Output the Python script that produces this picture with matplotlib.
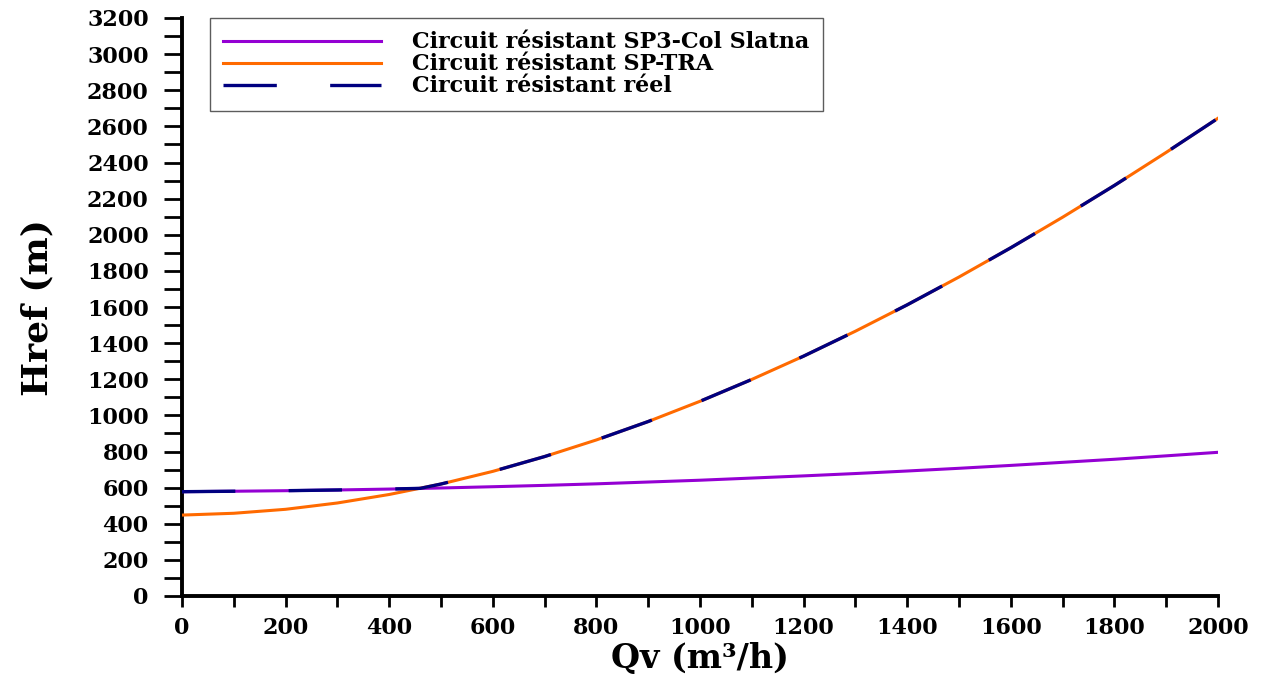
import matplotlib
matplotlib.use("Agg")
import matplotlib.pyplot as plt
from matplotlib.ticker import MultipleLocator

# ---- data ----
q = [0, 100, 200, 300, 400, 500, 600, 700, 800, 900, 1000,
     1100, 1200, 1300, 1400, 1500, 1600, 1700, 1800, 1900, 2000]
h_sp3 = [577.5, 580, 583, 587, 592, 598, 605, 612.5, 621, 631, 641,
         653, 665, 678, 692, 707, 723, 740, 757, 776, 795.5]
h_sptra = [448, 458, 480, 515, 562, 620, 690, 772, 864, 966, 1078,
           1199, 1328, 1466, 1612, 1766, 1928, 2097, 2273, 2456, 2645]
q_reel = [0, 100, 200, 300, 400, 460, 500, 600, 700, 800, 900, 1000,
          1100, 1200, 1300, 1400, 1500, 1600, 1700, 1800, 1900, 2000]
h_reel = [577.5, 580, 583, 587, 592, 596, 620, 690, 772, 864, 966, 1078,
          1199, 1328, 1466, 1612, 1766, 1928, 2097, 2273, 2456, 2645]

labels = ["Circuit résistant SP3-Col Slatna",
          "Circuit résistant SP-TRA",
          "Circuit résistant réel"]
x_label = "Qv (m³/h)"
y_label = "Href (m)"

FONT = "DejaVu Serif"

fig = plt.figure(figsize=(12.68, 6.75), dpi=100)
ax = fig.add_axes([182/1268, 79/675, 1036/1268, 578/675])

ax.plot(q, h_sp3, color="#9400D3", lw=2.2, label=labels[0], zorder=3)
ax.plot(q, h_sptra, color="#FF6A00", lw=2.2, label=labels[1], zorder=4)
ax.plot(q_reel, h_reel, color="#000080", lw=2.4, ls=(0, (16, 16)),
        label=labels[2], zorder=5)

ax.set_xlim(0, 2000)
ax.set_ylim(0, 3200)
ax.xaxis.set_major_locator(MultipleLocator(200))
ax.xaxis.set_minor_locator(MultipleLocator(100))
ax.yaxis.set_major_locator(MultipleLocator(200))
ax.yaxis.set_minor_locator(MultipleLocator(100))

for s in ["top", "right"]:
    ax.spines[s].set_visible(False)
for s in ["left", "bottom"]:
    ax.spines[s].set_linewidth(2.8)

ax.tick_params(axis="y", which="both", direction="out", length=13, width=2, pad=11)
ax.tick_params(axis="x", which="both", direction="out", length=8, width=2, pad=7)

for lab in ax.get_xticklabels() + ax.get_yticklabels():
    lab.set_fontfamily(FONT)
    lab.set_fontweight("bold")
    lab.set_fontsize(16)

ax.set_xlabel(x_label, fontfamily=FONT, fontweight="bold", fontsize=24,
              verticalalignment="baseline")
ax.xaxis.set_label_coords(0.5, -(668 - 596) / 578)
ax.set_ylabel(y_label, fontfamily=FONT, fontweight="bold", fontsize=26)
ax.yaxis.set_label_coords(-128/1036, 0.5)

leg = ax.legend(loc="upper left", bbox_to_anchor=(28/1036, 1.0), borderaxespad=0,
                prop={"family": FONT, "weight": "bold", "size": 16},
                handlelength=7.1, handletextpad=1.4, labelspacing=0.0,
                borderpad=0.6, fancybox=False, frameon=True)
leg.get_frame().set_edgecolor("#333333")
leg.get_frame().set_linewidth(1.0)

fig.savefig("out.png", dpi=100)
